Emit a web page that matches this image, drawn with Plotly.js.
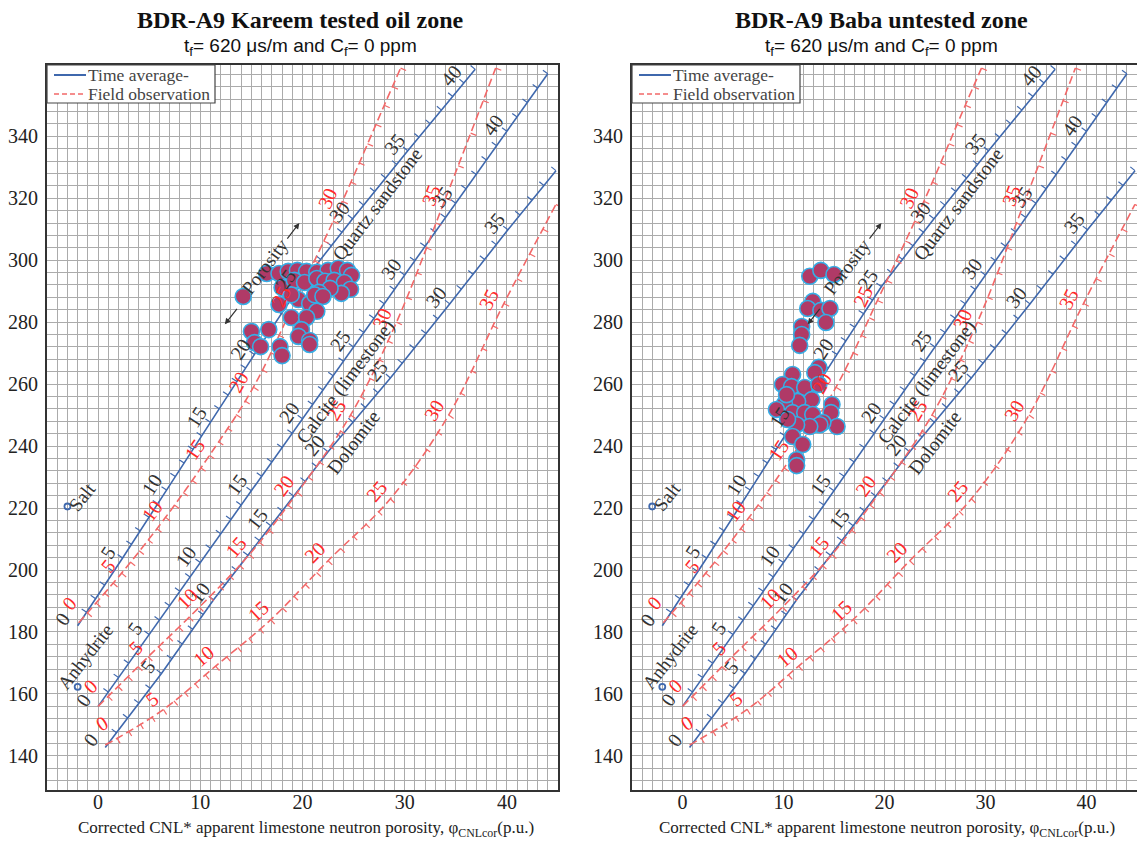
<!DOCTYPE html>
<html><head><meta charset="utf-8">
<script src="https://cdn.plot.ly/plotly-3.0.1.min.js"></script>
<style>html,body{margin:0;padding:0;background:#fff}#chart{width:1137px;height:845px}</style>
</head><body><div id="chart"></div>
<script>
// ---------------- DATA ----------------
const panelTitles = ["BDR-A9 Kareem tested oil zone", "BDR-A9 Baba untested zone"];
const subtitleText = "t<sub>f</sub>= 620 μs/m and C<sub>f</sub>= 0 ppm";
const xTitleText = "Corrected CNL* apparent limestone neutron porosity, φ<sub>CNLcor</sub>(p.u.)";
const legendNames = ["Time average-", "Field observation"];
const xTickVals = [0, 10, 20, 30, 40];
const yTickVals = [140, 160, 180, 200, 220, 240, 260, 280, 300, 320, 340];

// Kareem tested oil zone samples
const kareemX = [16.5,17.7,18.6,19.5,20.4,21.4,22.5,23.5,24.4,24.8,18.0,19.2,20.2,21.4,22.2,23.1,24.1,24.7,23.8,22.7,21.6,19.6,20.7,17.7,21.4,18.9,20.4,19.9,19.6,20.7,21.2,22.0,18.9,14.2,15.0,16.7,15.3,15.9,17.8,18.0,20.7];
const kareemY = [295.7,295.7,296.4,296.7,296.4,296.1,296.7,297.4,296.7,295.1,291.2,293.5,292.8,294.1,293.2,293.5,292.8,290.6,289.3,290.9,289.6,287.3,286.0,285.7,283.5,281.5,281.5,277.6,275.4,274.1,288.8,288.3,288.8,288.3,277.0,277.6,273.4,272.1,272.1,269.2,272.8];
// Baba untested zone samples
const babaX = [12.6,13.7,15.0,12.9,12.4,13.7,14.6,14.2,11.8,11.8,11.6,13.5,13.1,10.9,9.9,10.8,12.1,13.5,12.8,11.4,10.1,9.3,14.8,14.7,15.3,10.9,12.1,12.9,13.9,13.6,12.6,11.3,10.9,11.9,11.3,11.3,10.3,10.4];
const babaY = [294.8,296.7,295.4,286.7,284.4,283.8,284.4,279.9,278.6,276.0,272.5,265.4,263.7,263.1,259.9,259.2,258.9,259.9,255.0,254.4,253.7,251.8,253.4,250.8,246.3,250.8,250.8,250.2,247.6,246.9,246.3,246.9,243.1,240.5,235.6,233.7,256.6,248.6];

// Time-average lines (true porosity nodes, apparent neutron porosity, transit time)
const sandTA_phi = [0,5,10,15,20,25,30,35,40,41];
const sandTA_x   = [-2.0,2.4,6.7,11.0,15.3,19.7,24.9,30.3,35.8,36.9];
const sandTA_y   = [182.0,203.9,225.8,247.7,269.6,291.5,313.4,335.3,357.2,361.6];
const sandTA_lab = [0,5,10,15,20,25,30,35,40];

const limeTA_phi = [0,5,10,15,20,25,30,35,40,44];
const limeTA_x   = [0,5,10,15,20,25,30,35,40,44];
const limeTA_y   = [156.0,179.2,202.4,225.6,248.8,272.0,295.2,318.4,341.6,360.2];
const limeTA_lab = [0,5,10,15,20,25,30,35,40];

const doloTA_phi = [0,5,10,15,20,25,30,35,39];
const doloTA_x   = [0.7,6.2,11.3,16.9,22.5,28.6,34.4,40.1,44.8];
const doloTA_y   = [142.7,166.6,190.4,214.3,238.2,262.0,285.9,309.8,328.9];
const doloTA_lab = [0,5,10,15,20,25,30,35];

// Field-observation curves
const sandFO_phi = [0,5,10,15,20,25,30,35,37];
const sandFO_x   = [-1.9,2.3,6.6,10.9,15.2,19.3,23.9,28.0,29.6];
const sandFO_y   = [183,199,217,237,259,287,319,350,362];
const sandFO_lab = [0,5,10,15,20,25,30];

const limeFO_phi = [0,5,10,15,20,25,30,35,39];
const limeFO_x   = [0.0,4.9,9.9,14.8,19.5,24.7,29.2,34.0,38.9];
const limeFO_y   = [156,172,188,205,225,250,280,320,362];
const limeFO_lab = [0,5,10,15,20,25,30,35];

const doloFO_phi = [0,5,10,15,20,25,30,35,39];
const doloFO_x   = [0.7,6.4,11.5,16.9,22.5,28.6,34.3,39.7,44.8];
const doloFO_y   = [143.5,155,169,184,203,223,250,286,318];
const doloFO_lab = [0,5,10,15,20,25,30,35];

const mineralNames = ["Salt", "Anhydrite"];
const mineralX = [-3.0, -2.0];
const mineralY = [220.5, 162.3];

const rockNames = ["Quartz sandstone", "Calcite (limestone)", "Dolomite"];
const rockX = [27.3, 24.2, 25.0];
const rockY = [318.0, 260.8, 241.1];

// ---------------- STYLE / GEOMETRY ----------------
const W = 1137, H = 845;
const XR = [-5, 45], YR = [129, 363];
const plotTop = 65, plotBottom = 790;
const panels = [
  {x0: 47, w: 511, xa: 'x', ya: 'y', px: kareemX, py: kareemY, tcx: 300},
  {x0: 632, w: 505, xa: 'x2', ya: 'y2', px: babaX, py: babaY, tcx: 881}
];
const BLUE = '#3f68ad', RED = '#f26868', REDTXT = '#ff2a2a', TXT = '#333';
const SERIF = 'Liberation Serif, Times New Roman, serif';
const GRID = '#ababab';

const curveDefs = [
  {phi: sandTA_phi, x: sandTA_x, y: sandTA_y, lab: sandTA_lab, kind: 'ta'},
  {phi: limeTA_phi, x: limeTA_x, y: limeTA_y, lab: limeTA_lab, kind: 'ta'},
  {phi: doloTA_phi, x: doloTA_x, y: doloTA_y, lab: doloTA_lab, kind: 'ta'},
  {phi: sandFO_phi, x: sandFO_x, y: sandFO_y, lab: sandFO_lab, kind: 'fo'},
  {phi: limeFO_phi, x: limeFO_x, y: limeFO_y, lab: limeFO_lab, kind: 'fo'},
  {phi: doloFO_phi, x: doloFO_x, y: doloFO_y, lab: doloFO_lab, kind: 'fo'}
];

const traces = [], annotations = [], shapes = [];
const layout = {
  width: W, height: H, margin: {l: 0, r: 0, t: 0, b: 0},
  paper_bgcolor: '#fff', plot_bgcolor: '#fff', showlegend: false,
  font: {family: SERIF, color: TXT}
};
const px2x = v => v / W, px2y = v => 1 - v / H;

panels.forEach((P, pi) => {
  const sx = P.w / (XR[1] - XR[0]);
  const sy = (plotBottom - plotTop) / (YR[1] - YR[0]);
  const ang = (dx, dy) => Math.atan2(dy * sy, dx * sx);
  const sfx = pi === 0 ? '' : '2';

  layout['xaxis' + sfx] = {
    domain: [P.x0 / W, (P.x0 + P.w) / W], range: XR, anchor: 'y' + sfx,
    tickmode: 'array', tickvals: xTickVals, ticks: '', ticklabelstandoff: -7,
    showgrid: true, gridcolor: GRID, gridwidth: 1,
    minor: {tickmode: 'linear', tick0: 0, dtick: 1, showgrid: true, gridcolor: GRID, gridwidth: 1},
    showline: true, mirror: true, linecolor: '#333', linewidth: 2, zeroline: false,
    tickfont: {family: SERIF, size: 20, color: '#222'}, automargin: false, fixedrange: true
  };
  layout['yaxis' + sfx] = {
    domain: [(H - plotBottom) / H, (H - plotTop) / H], range: YR, anchor: 'x' + sfx,
    tickmode: 'array', tickvals: yTickVals, ticks: '', ticklabelstandoff: 3,
    showgrid: true, gridcolor: GRID, gridwidth: 1,
    minor: {tickmode: 'linear', tick0: 140, dtick: 4, showgrid: true, gridcolor: GRID, gridwidth: 1},
    showline: true, mirror: true, linecolor: '#333', linewidth: 2, zeroline: false,
    tickfont: {family: SERIF, size: 20, color: '#222'}, automargin: false, fixedrange: true
  };

  curveDefs.forEach(c => {
    const isTA = c.kind === 'ta';
    const col = isTA ? BLUE : RED;
    traces.push({
      type: 'scatter', mode: 'lines', x: c.x, y: c.y, xaxis: P.xa, yaxis: P.ya,
      line: {color: col, width: 1.6, dash: isTA ? 'solid' : '8px,4px', shape: isTA ? 'linear' : 'spline'},
      showlegend: false, hoverinfo: 'skip'
    });
    // tick marks each 1 p.u.
    const tx = [], ty = [];
    const side = isTA ? 1 : -1, L = 6;
    for (let i = 0; i < c.phi.length - 1; i++) {
      const a = ang(c.x[i + 1] - c.x[i], c.y[i + 1] - c.y[i]);
      for (let p = Math.ceil(c.phi[i]); p < c.phi[i + 1] + 1e-9; p++) {
        if (p === 0) continue;
        if (i > 0 && p === c.phi[i]) continue;
        const t = (p - c.phi[i]) / (c.phi[i + 1] - c.phi[i]);
        const X = c.x[i] + t * (c.x[i + 1] - c.x[i]);
        const Y = c.y[i] + t * (c.y[i + 1] - c.y[i]);
        tx.push(X, X - side * Math.sin(a) * L / sx, null);
        ty.push(Y, Y + side * Math.cos(a) * L / sy, null);
      }
    }
    traces.push({
      type: 'scatter', mode: 'lines', x: tx, y: ty, xaxis: P.xa, yaxis: P.ya,
      line: {color: col, width: 1.2}, showlegend: false, hoverinfo: 'skip', connectgaps: false
    });
    // labels
    c.lab.forEach(v => {
      const i = c.phi.indexOf(v);
      const aPrev = i > 0 ? ang(c.x[i] - c.x[i - 1], c.y[i] - c.y[i - 1]) : null;
      const aNext = i < c.phi.length - 1 ? ang(c.x[i + 1] - c.x[i], c.y[i + 1] - c.y[i]) : null;
      const a = aPrev === null ? aNext : (aNext === null ? aPrev : (aPrev + aNext) / 2);
      let perp = 15, along = -3;
      if (v === 0) { perp = isTA ? 16 : 20; along = isTA ? -3 : 9; }
      const xs = -Math.sin(a) * perp + Math.cos(a) * along;
      const ys = Math.cos(a) * perp + Math.sin(a) * along;
      annotations.push({
        x: c.x[i], y: c.y[i], xref: P.xa, yref: P.ya, text: String(v), showarrow: false,
        textangle: -a * 180 / Math.PI, xshift: xs, yshift: ys, xanchor: 'center', yanchor: 'middle',
        font: {family: SERIF, size: 20, color: isTA ? TXT : REDTXT}
      });
    });
  });

  // mineral points
  traces.push({
    type: 'scatter', mode: 'markers', x: mineralX, y: mineralY, xaxis: P.xa, yaxis: P.ya,
    marker: {symbol: 'circle-open', size: 6, color: BLUE, line: {width: 1.8, color: BLUE}},
    showlegend: false, hoverinfo: 'skip'
  });
  mineralNames.forEach((n, k) => {
    annotations.push({
      x: mineralX[k], y: mineralY[k], xref: P.xa, yref: P.ya, text: n, showarrow: false,
      textangle: -52, xanchor: 'center', yanchor: 'middle',
      xshift: k === 0 ? 15 : 8, yshift: k === 0 ? 10 : 30,
      font: {family: SERIF, size: 19, color: TXT}
    });
  });
  rockNames.forEach((n, k) => {
    annotations.push({
      x: rockX[k], y: rockY[k], xref: P.xa, yref: P.ya, text: n, showarrow: false,
      textangle: -53, xanchor: 'center', yanchor: 'middle', font: {family: SERIF, size: 19.5, color: TXT}
    });
  });
  // porosity direction marker
  annotations.push({x: 16.3, y: 298, xref: P.xa, yref: P.ya, text: 'Porosity', showarrow: false,
    textangle: -53, xanchor: 'center', yanchor: 'middle', font: {family: SERIF, size: 19, color: TXT}});
  annotations.push({x: 19.7, y: 312, ax: 18.4, ay: 306.5, xref: P.xa, yref: P.ya, axref: P.xa, ayref: P.ya,
    text: '', showarrow: true, arrowhead: 2, arrowsize: 1, arrowwidth: 1.2, arrowcolor: '#333'});
  annotations.push({x: 12.4, y: 279.3, ax: 13.7, ay: 284.8, xref: P.xa, yref: P.ya, axref: P.xa, ayref: P.ya,
    text: '', showarrow: true, arrowhead: 2, arrowsize: 1, arrowwidth: 1.2, arrowcolor: '#333'});

  // sample points
  traces.push({
    type: 'scatter', mode: 'markers', x: P.px, y: P.py, xaxis: P.xa, yaxis: P.ya,
    marker: {size: 16, color: '#b03a67', line: {color: '#36aee6', width: 1.6}},
    showlegend: false, hoverinfo: 'skip'
  });

  // legend box (drawn in paper pixels)
  const lx0 = P.x0, ly0 = plotTop;
  shapes.push({type: 'rect', xref: 'paper', yref: 'paper', x0: px2x(lx0), x1: px2x(lx0 + 168),
    y0: px2y(ly0), y1: px2y(ly0 + 38), fillcolor: '#fff', line: {color: '#444', width: 1.2}, layer: 'above'});
  shapes.push({type: 'line', xref: 'paper', yref: 'paper', x0: px2x(lx0 + 7), x1: px2x(lx0 + 39),
    y0: px2y(ly0 + 10), y1: px2y(ly0 + 10), line: {color: BLUE, width: 2}, layer: 'above'});
  shapes.push({type: 'line', xref: 'paper', yref: 'paper', x0: px2x(lx0 + 7), x1: px2x(lx0 + 39),
    y0: px2y(ly0 + 29), y1: px2y(ly0 + 29), line: {color: RED, width: 1.5, dash: '5px,3px'}, layer: 'above'});
  legendNames.forEach((n, k) => {
    annotations.push({x: px2x(lx0 + 39), y: px2y(ly0 + 10 + 19 * k), xref: 'paper', yref: 'paper',
      text: n, showarrow: false, xanchor: 'left', yanchor: 'middle',
      font: {family: SERIF, size: 17.5, color: '#444'}});
  });

  // titles
  const cx = P.tcx / W;
  annotations.push({x: cx, y: px2y(20), xref: 'paper', yref: 'paper', showarrow: false,
    xanchor: 'center', yanchor: 'middle',
    text: '<b>' + panelTitles[pi] + '</b>', font: {family: SERIF, size: 24, color: '#111'}});
  annotations.push({x: cx, y: px2y(47), xref: 'paper', yref: 'paper', showarrow: false,
    xanchor: 'center', yanchor: 'middle',
    text: subtitleText, font: {family: 'Liberation Sans, Arial, sans-serif', size: 19, color: '#111'}});
  annotations.push({x: (P.tcx + 6) / W, y: px2y(829), xref: 'paper', yref: 'paper', showarrow: false,
    xanchor: 'center', yanchor: 'middle',
    text: xTitleText, font: {family: SERIF, size: 17, color: '#222'}});
});

layout.annotations = annotations;
layout.shapes = shapes;
Plotly.newPlot('chart', traces, layout, {displayModeBar: false, responsive: false});
</script></body></html>
